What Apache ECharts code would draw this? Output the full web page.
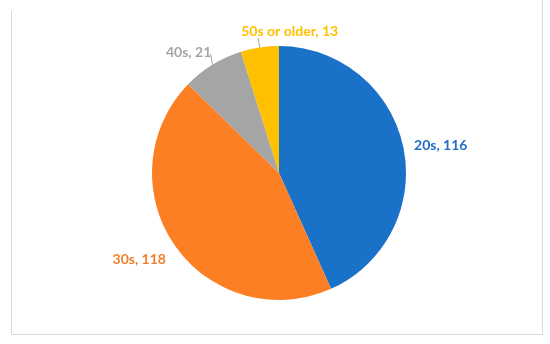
<!DOCTYPE html>
<html>
<head>
<meta charset="utf-8">
<script src="https://cdn.jsdelivr.net/npm/echarts@6/dist/echarts.min.js"></script>
<style>html,body{margin:0;padding:0;background:#fff}#c{width:550px;height:344px}</style>
</head>
<body>
<div id="c"></div>
<script>
const categories = ["20s", "30s", "40s", "50s or older"];
const values = [116, 118, 21, 13];
const colors = ["#1a72c8", "#fd7f23", "#a5a5a5", "#ffc000"];
const labelColors = ["#1f6ec2", "#f07f2a", "#a5a5a5", "#ffc000"];
// label nudges and leader-line offsets (style only)
const labelShift = [[0, 0], [1, 10], [9, -4], [85, -6]];
const leaderOffset = [null, null, [-2, -11], [-1.5, -9.5]];

const chart = echarts.init(document.getElementById('c'), null, {renderer: 'canvas'});
const data = categories.map((c, i) => ({
  name: c,
  value: values[i],
  itemStyle: {color: colors[i]},
  label: {color: labelColors[i]},
  labelLine: {show: i >= 2, length: i >= 2 ? 10 : 6, length2: 0, lineStyle: {opacity: 0}}
}));
const border = {
  type: 'polyline',
  shape: {points: [[11.5, 11], [11.5, 334.5], [542.5, 334.5], [542.5, 0]]},
  style: {stroke: '#d9d9d9', lineWidth: 1, fill: null},
  silent: true
};
function buildOption(graphics) {
  return {
    animation: false,
    graphic: graphics,
    series: [{
      type: 'pie',
      center: [279, 173],
      radius: 127,
      startAngle: 90,
      clockwise: true,
      avoidLabelOverlap: false,
      data: data,
      itemStyle: {borderWidth: 0},
      label: {
        show: true,
        position: 'outside',
        formatter: '{b}, {c}',
        fontFamily: 'Lato',
        fontWeight: 'bold',
        fontSize: 14
      },
      labelLayout: function (p) {
        const s = labelShift[p.dataIndex];
        return {dx: s[0], dy: s[1]};
      }
    }]
  };
}
chart.setOption(buildOption([border]));
// leader lines derived from the library's pie layout
const sd = chart.getModel().getSeriesByIndex(0).getData();
const lines = [];
leaderOffset.forEach((off, i) => {
  if (!off) return;
  const L = sd.getItemLayout(i);
  const mid = (L.startAngle + L.endAngle) / 2;
  const sx = L.cx + L.r * Math.cos(mid), sy = L.cy + L.r * Math.sin(mid);
  lines.push({
    type: 'line',
    shape: {x1: sx, y1: sy, x2: sx + off[0], y2: sy + off[1]},
    style: {stroke: '#a6a6a6', lineWidth: 1},
    silent: true,
    z: 10
  });
});
chart.clear();
chart.setOption(buildOption([border].concat(lines)));
</script>
</body>
</html>
